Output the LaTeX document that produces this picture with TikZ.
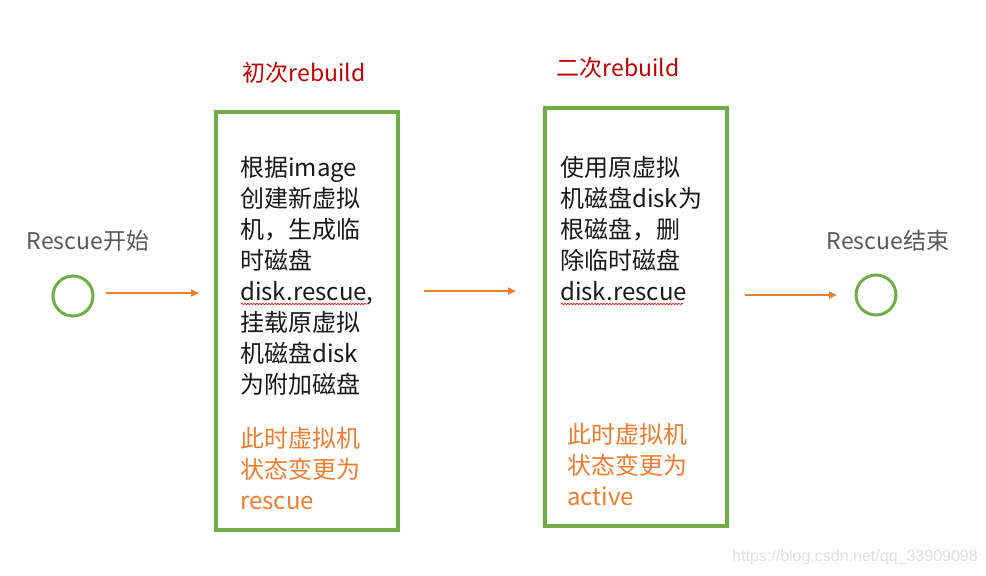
\documentclass[tikz,border=0pt]{standalone}
\usepackage{fontspec}
\newfontfamily\cjk{Noto Sans CJK SC}
\usetikzlibrary{arrows.meta,decorations.pathmorphing}
\definecolor{grn}{HTML}{70AD47}
\definecolor{org}{HTML}{ED7D31}
\definecolor{ttl}{HTML}{C00000}
\definecolor{lbl}{HTML}{595959}
\definecolor{wm}{HTML}{E0E0E0}
\begin{document}
\begin{tikzpicture}[x=1pt,y=-1pt,
  stage/.style={draw=grn,line width=4pt,minimum width=182pt,minimum height=418pt,inner sep=0pt,anchor=north west},
  endpt/.style={circle,draw=grn,line width=3pt,minimum size=40pt,inner sep=0pt},
  flow/.style={draw=org,line width=2pt,-{Triangle[length=8pt,width=7pt]}},
  title/.style={font=\cjk\fontsize{23}{28}\selectfont,text=ttl,inner sep=0pt},
  lab/.style={font=\cjk\fontsize{23}{28}\selectfont,text=lbl,inner sep=0pt},
  body/.style={font=\cjk\fontsize{24}{31}\selectfont,align=left,inner sep=0pt,anchor=north west},
  squig/.style={draw=red,line width=0.6pt,decorate,decoration={snake,amplitude=0.8pt,segment length=3pt}}]
\useasboundingbox (0,0) rectangle (986,576);
\fill[white] (0,0) rectangle (986,576);
% endpoints
\node[endpt] (s) at (73,296) {};
\node[endpt] (e) at (876,295) {};
\node[lab] (ls) at (88,241) {Rescue开始};
\node[lab] (le) at (888,241) {Rescue结束};
% boxes
\node[stage] (b1) at (214,110) {};
\node[stage] (b2) at (543,106) {};
\node[title] (t1) at (304,73) {初次rebuild};
\node[title] (t2) at (618,68) {二次rebuild};
% body text
\node[body,text=black!90] (x1) at (240,156) {根据image\\创建新虚拟\\机，生成临\\时磁盘\\disk.rescue,\\挂载原虚拟\\机磁盘disk\\为附加磁盘};
\node[body,text=org] (y1) at (240,427) {此时虚拟机\\状态变更为\\rescue};
\node[body,text=black!90] (x2) at (560,156) {使用原虚拟\\机磁盘disk为\\根磁盘，删\\除临时磁盘\\disk.rescue};
\node[body,text=org] (y2) at (567,423) {此时虚拟机\\状态变更为\\active};
% spellcheck squiggles
\coordinate (q1a) at (241,304); \coordinate (q1b) at (367,304);
\coordinate (q2a) at (561,304); \coordinate (q2b) at (683,304);
\path[squig] (q1a) -- (q1b);
\path[squig] (q2a) -- (q2b);
% arrows
\coordinate (a1s) at (106,293); \coordinate (a1e) at (199,293);
\coordinate (a2s) at (424,291); \coordinate (a2e) at (516,291);
\coordinate (a3s) at (745,295); \coordinate (a3e) at (837,295);
\draw[flow] (a1s) -- (a1e);
\draw[flow] (a2s) -- (a2e);
\draw[flow] (a3s) -- (a3e);
% watermark
\node[font=\fontspec{Liberation Sans}\fontsize{16}{18}\selectfont,text=wm,inner sep=0pt] (w) at (855,557) {https://blog.csdn.net/qq\_33909098};
\end{tikzpicture}
\end{document}
